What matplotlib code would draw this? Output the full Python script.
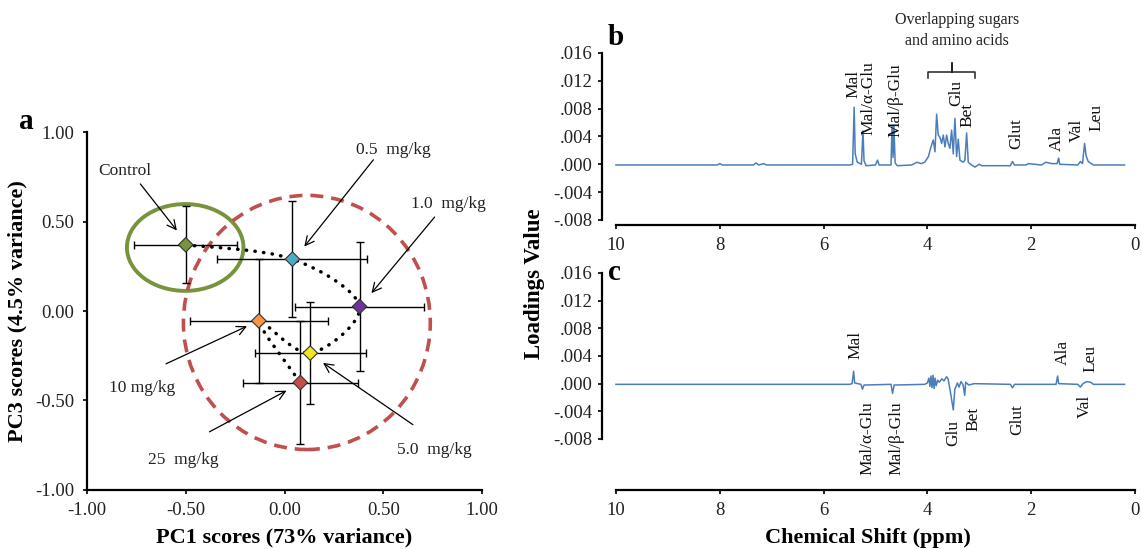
import matplotlib.pyplot as plt
from matplotlib.patches import Ellipse, PathPatch
from matplotlib.path import Path
from matplotlib.ticker import FuncFormatter

plt.rcParams['font.family'] = ['Liberation Serif', 'DejaVu Serif']

# ---- panel a : PCA scores (mean +/- error) per dose group
doses = ['Control', '0.5  mg/kg', '1.0  mg/kg', '5.0  mg/kg', '10 mg/kg', '25  mg/kg']
pc1 = [-0.50, 0.04, 0.38, 0.13, -0.13, 0.08]
pc3 = [0.37, 0.29, 0.025, -0.235, -0.055, -0.40]
pc1_err = [0.26, 0.38, 0.325, 0.28, 0.35, 0.29]
pc3_err = [0.215, 0.325, 0.36, 0.285, 0.345, 0.345]
dose_colors = ['#77933c', '#4bacc6', '#7030a0', '#f2e51c', '#f79646', '#c0504d']

# where the dose labels and their arrows sit (data coords)
label_xy = [(-0.81, 0.78), (0.55, 0.90), (0.83, 0.60), (0.76, -0.775), (-0.72, -0.43), (-0.51, -0.83)]
arrow_tail = [(-0.73, 0.71), (0.45, 0.845), (0.76, 0.525), (0.65, -0.635), (-0.60, -0.295), (-0.38, -0.675)]
arrow_head = [(-0.545, 0.45), (0.10, 0.36), (0.44, 0.10), (0.195, -0.29), (-0.19, -0.085), (0.01, -0.445)]

# ---- panels b and c : loadings (ppm, value)
b_ppm = [10.0, 8.05, 8.0, 7.95, 7.35, 7.3, 7.25, 7.15, 7.1, 5.5, 5.44, 5.41, 5.39, 5.35,
         5.27, 5.24, 5.22, 5.18, 5.0, 4.96, 4.93, 4.70, 4.68, 4.66, 4.645, 4.62, 4.58,
         4.3, 4.2, 4.12, 4.05, 3.98, 3.93, 3.886, 3.853, 3.821, 3.79, 3.757, 3.725,
         3.693, 3.661, 3.628, 3.597, 3.565, 3.532, 3.50, 3.468, 3.436, 3.404, 3.372,
         3.308, 3.276, 3.243, 3.211, 3.147, 3.083, 3.0, 2.95, 2.4, 2.36, 2.32, 2.1,
         2.05, 1.8, 1.72, 1.6, 1.5, 1.47, 1.45, 1.1, 1.05, 1.01, 0.97, 0.94, 0.9, 0.8, 0.2]
b_val = [-0.0001, -0.0001, 0.0001, -0.0001, -0.0001, 0.0002, -0.0001, 0.0001, -0.0001,
         -0.0001, 0.0, 0.0082, 0.0015, 0.0003, 0.0, 0.0048, 0.0005, -0.0002, -0.0001,
         0.0006, -0.0001, -0.0001, 0.0055, 0.001, 0.0056, 0.0002, -0.0002, -0.0001,
         0.0003, 0.0001, 0.0003, 0.0011, 0.0025, 0.0035, 0.0018, 0.0072, 0.0042, 0.0039,
         0.003, 0.0042, 0.0025, 0.0042, 0.003, 0.0023, 0.0049, 0.0015, 0.0066, 0.0011,
         0.0036, 0.0006, 0.0003, 0.0006, 0.0045, 0.0003, -0.0001, -0.0004, 0.0, -0.0002,
         -0.0002, 0.0004, -0.0001, -0.0001, 0.0001, -0.0001, 0.0003, 0.0001, 0.0001,
         0.0009, 0.0, -0.0001, 0.0004, 0.0001, 0.0030, 0.0012, 0.0004, -0.0001, -0.0001]

c_ppm = [10.0, 5.5, 5.45, 5.42, 5.4, 5.28, 5.25, 5.22, 4.70, 4.67, 4.64, 4.05, 4.0, 3.97,
         3.95, 3.93, 3.91, 3.89, 3.87, 3.85, 3.83, 3.80, 3.77, 3.72, 3.68, 3.63, 3.6,
         3.56, 3.5, 3.47, 3.42, 3.39, 3.35, 3.31, 3.28, 3.26, 3.2, 3.1, 2.4, 2.36, 2.32,
         1.52, 1.49, 1.47, 1.1, 1.05, 1.0, 0.93, 0.85, 0.8, 0.2]
c_val = [-0.0001, -0.0001, 0.0, 0.0018, 0.0001, -0.0001, -0.0008, -0.0002, -0.0001,
         -0.0014, -0.0002, -0.0001, 0.0001, 0.0008, -0.0004, 0.0011, -0.0006, 0.0012,
         -0.0007, 0.0008, -0.0003, 0.0005, 0.0002, 0.0007, 0.0004, 0.001, 0.0007, -0.001,
         -0.0038, -0.0008, 0.0001, -0.0005, 0.0003, -0.0002, -0.0017, 0.0002, -0.0002,
         0.0, -0.0001, -0.0006, -0.0001, -0.0001, 0.0011, 0.0, -0.0001, -0.0005, 0.0,
         0.0003, 0.0002, -0.0001, -0.0001]

# metabolite labels: (text, ppm, y anchor, above=True -> text starts at y)
b_labels = [('Mal', 5.43, 0.0096, True), ('Mal/\u03b1-Glu', 5.13, 0.0042, True),
            ('Mal/\u03b2-Glu', 4.61, 0.0039, True), ('Glu', 3.45, 0.0084, True),
            ('Bet', 3.22, 0.0053, True), ('Glut', 2.29, 0.0022, True),
            ('Ala', 1.50, 0.0019, True), ('Val', 1.12, 0.0032, True),
            ('Leu', 0.75, 0.0048, True)]
c_labels = [('Mal', 5.38, 0.0035, True), ('Mal/\u03b1-Glu', 5.16, -0.0026, False),
            ('Mal/\u03b2-Glu', 4.59, -0.0026, False), ('Glu', 3.51, -0.0052, False),
            ('Bet', 3.12, -0.0033, False), ('Glut', 2.27, -0.0030, False),
            ('Ala', 1.39, 0.0027, True), ('Val', 0.96, -0.0016, False),
            ('Leu', 0.85, 0.0017, True)]

load_ticks = [-0.008, -0.004, 0.0, 0.004, 0.008, 0.012, 0.016]
ppm_ticks = [10, 8, 6, 4, 2, 0]

fig = plt.figure(figsize=(11.42, 5.49), dpi=100)

# ================= panel a
ax = fig.add_axes([0.0762, 0.1075, 0.3459, 0.652])
ax.set_xlim(-1, 1)
ax.set_ylim(-1, 1)
for s in ['top', 'right']:
    ax.spines[s].set_visible(False)
for s in ['left', 'bottom']:
    ax.spines[s].set_linewidth(1.6)
ax.set_xticks([-1, -0.5, 0, 0.5, 1])
ax.set_yticks([-1, -0.5, 0, 0.5, 1])
ax.xaxis.set_major_formatter(FuncFormatter(lambda v, p: '%.2f' % v))
ax.yaxis.set_major_formatter(FuncFormatter(lambda v, p: '%.2f' % v))
ax.tick_params(direction='out', length=3, width=1.4, labelsize=13.5, pad=6, colors='#222222')
ax.set_xlabel('PC1 scores (73% variance)', fontsize=16, fontweight='bold', labelpad=6)
ax.set_ylabel('PC3 scores (4.5% variance)', fontsize=16, fontweight='bold', labelpad=6)

ax.add_patch(Ellipse((-0.503, 0.355), 0.59, 0.485, fill=False, ec='#77933c', lw=2.8, zorder=1))
ax.add_patch(Ellipse((0.113, -0.064), 1.25, 1.42, fill=False, ec='#c0504d', lw=2.6,
                     linestyle=(0, (3.6, 2.2)), zorder=1))

ax.errorbar(pc1, pc3, xerr=pc1_err, yerr=pc3_err, fmt='none', ecolor='black',
            elinewidth=1, capsize=3, capthick=1, zorder=2)

# Excel-style smoothed connector through the dose means (bezier via catmull-rom)
pts = list(zip(pc1, pc3))
verts = [pts[0]]
codes = [Path.MOVETO]
for i in range(len(pts) - 1):
    p0 = pts[max(i - 1, 0)]
    p1 = pts[i]
    p2 = pts[i + 1]
    p3 = pts[min(i + 2, len(pts) - 1)]
    c1 = (p1[0] + (p2[0] - p0[0]) / 6, p1[1] + (p2[1] - p0[1]) / 6)
    c2 = (p2[0] - (p3[0] - p1[0]) / 6, p2[1] - (p3[1] - p1[1]) / 6)
    verts += [c1, c2, p2]
    codes += [Path.CURVE4] * 3
ax.add_patch(PathPatch(Path(verts, codes), fill=False, ec='black', lw=2.5,
                       linestyle=(0, (0.1, 2.4)), capstyle='round', zorder=3))

ax.scatter(pc1, pc3, marker='D', s=55, c=dose_colors, edgecolors='#333333',
           linewidths=0.8, zorder=4)

for name, (tx, ty), tail, head in zip(doses, label_xy, arrow_tail, arrow_head):
    ax.text(tx, ty, name, fontsize=12.5, ha='center', va='center', color='#222222')
    ax.annotate('', xy=head, xytext=tail,
                arrowprops=dict(arrowstyle='->', lw=0.9, color='black', mutation_scale=16,
                                shrinkA=0, shrinkB=0))

fig.text(0.017, 0.765, 'a', fontsize=21, fontweight='bold')


# ================= panels b and c
def loadings_panel(rect, ymin, ppm, val, labels, letter_y, letter):
    axl = fig.add_axes(rect)
    axl.set_xlim(10.27, 0)
    axl.set_ylim(ymin, 0.016)
    for s in ['top', 'right']:
        axl.spines[s].set_visible(False)
    axl.spines['left'].set_bounds(-0.008, 0.016)
    axl.spines['bottom'].set_bounds(0, 10)
    for s in ['left', 'bottom']:
        axl.spines[s].set_linewidth(1.6)
    axl.set_yticks(load_ticks)
    axl.set_xticks(ppm_ticks)
    axl.yaxis.set_major_formatter(FuncFormatter(
        lambda v, p: ('%.3f' % v).replace('0.', '.') if abs(v) > 1e-9 else '.000'))
    axl.tick_params(direction='out', length=3, width=1.4, labelsize=13.5, pad=4, colors='#222222')
    axl.tick_params(axis='x', pad=6)
    axl.plot(ppm, val, color='#4a7ebb', lw=1.1)
    for name, xp, yp, above in labels:
        axl.text(xp, yp, name, rotation=90, fontsize=12.5, ha='center',
                 va='bottom' if above else 'top', color='#111111')
    fig.text(0.532, letter_y, letter, fontsize=21, fontweight='bold')
    return axl


axb = loadings_panel([0.5271, 0.5902, 0.4667, 0.3133], -0.00872, b_ppm, b_val, b_labels, 0.918, 'b')
axc = loadings_panel([0.5271, 0.1075, 0.4667, 0.3953], -0.01537, c_ppm, c_val, c_labels, 0.49, 'c')
axc.set_xlabel('Chemical Shift (ppm)', fontsize=16, fontweight='bold', labelpad=6)

# bracket over the crowded sugar / amino-acid region
axb.plot([3.99, 3.99, 3.53, 3.53, 3.53, 3.08, 3.08],
         [0.0124, 0.0132, 0.0132, 0.0146, 0.0132, 0.0132, 0.0124], color='#222222', lw=1.1)
fig.text(0.838, 0.945, 'Overlapping sugars\nand amino acids', fontsize=11.5,
         ha='center', va='center', linespacing=1.4, color='#222222')

fig.text(0.468, 0.484, 'Loadings Value', rotation=90, fontsize=16.5, fontweight='bold',
         ha='center', va='center')

fig.savefig('out.png', dpi=100)
